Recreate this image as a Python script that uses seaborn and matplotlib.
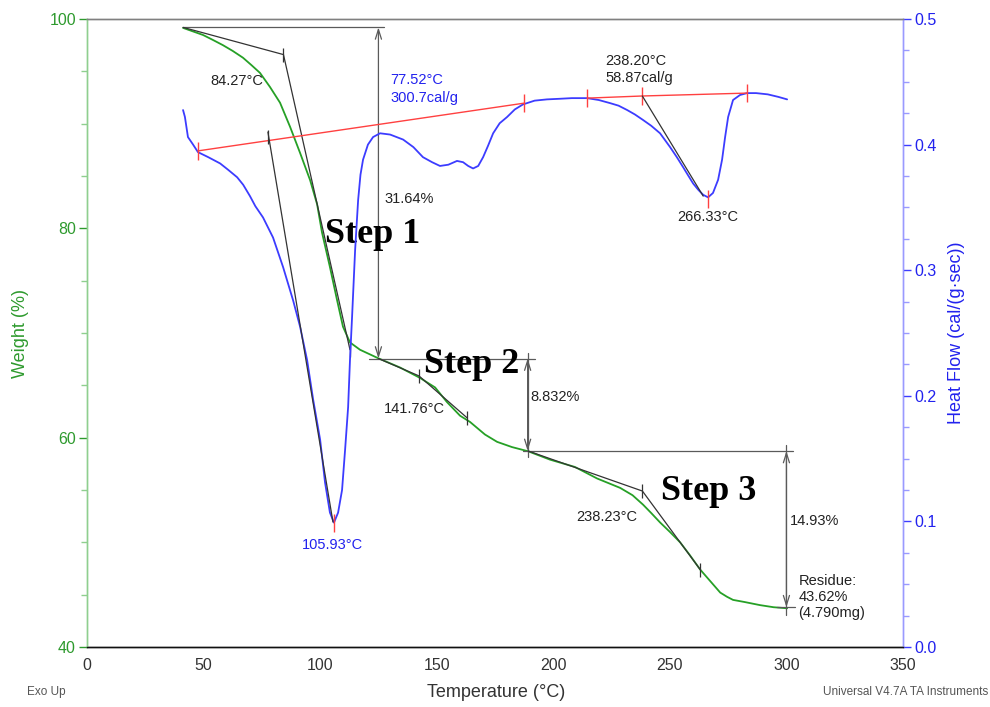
import numpy as np
import matplotlib
matplotlib.use("Agg")
import matplotlib.pyplot as plt
from matplotlib.ticker import MultipleLocator
import seaborn as sns

# ---------------- data ----------------
# TGA weight-loss curve
tga_temp = [41.2, 45.0, 49.8, 54.0, 58.3, 62.5, 66.9, 70.5, 74.2, 78.5, 82.8, 87.1,
            91.4, 95.7, 98.7, 100.8, 104.2, 107.2, 109.8, 112.8, 117.1, 124.8,
            134.3, 142.9, 149.3, 154.4, 160.0, 164.3, 170.7, 175.9, 182.3, 189.2,
            198.6, 209.3, 218.8, 228.7, 234.0, 238.5, 242.0, 245.8, 250.0, 254.4,
            258.5, 263.0, 267.3, 271.6, 274.5, 277.1, 282.0, 288.7, 294.5, 300.3]
tga_weight = [99.15, 98.85, 98.47, 98.0, 97.5, 96.95, 96.3, 95.6, 94.85, 93.5, 92.0, 89.7,
              87.2, 84.6, 82.3, 79.6, 76.3, 73.2, 70.6, 69.1, 68.4, 67.6,
              66.7, 65.7, 64.8, 63.4, 62.1, 61.5, 60.3, 59.6, 59.1, 58.7,
              57.9, 57.2, 56.1, 55.2, 54.5, 53.6, 52.8, 51.9, 51.0, 50.0,
              48.8, 47.4, 46.3, 45.2, 44.8, 44.5, 44.3, 44.0, 43.8, 43.7]

# DSC heat-flow curve
dsc_temp = [41.2, 42.0, 43.3, 45.5, 47.6, 52.0, 57.1, 60.5, 64.4, 67.0, 69.9, 72.2,
            75.5, 79.8, 84.1, 88.4, 91.4, 94.4, 97.0, 100.0, 102.1, 104.2, 105.93,
            107.7, 109.4, 110.7, 112.0, 112.8, 113.7, 115.0, 116.3, 117.3, 118.4,
            120.5, 122.7, 125.7, 130.0, 135.6, 140.0, 144.1, 148.0, 151.4, 155.0,
            158.7, 161.3, 163.5, 165.6, 167.8, 169.9, 172.0, 174.2, 177.0, 180.2,
            183.5, 187.0, 192.0, 197.3, 202.9, 208.0, 214.5, 219.5, 224.4, 228.0,
            231.7, 235.0, 238.5, 242.0, 245.8, 250.1, 253.0, 255.7, 258.0, 260.0,
            262.2, 264.3, 266.4, 268.5, 270.7, 272.4, 273.7, 275.0, 277.1, 280.1,
            283.1, 287.0, 292.0, 296.5, 300.3]
dsc_flow = [0.4275, 0.422, 0.406, 0.400, 0.394, 0.390, 0.385, 0.380, 0.374, 0.368, 0.359, 0.351,
            0.342, 0.326, 0.3025, 0.276, 0.255, 0.2285, 0.197, 0.165, 0.131, 0.107, 0.099,
            0.107, 0.125, 0.157, 0.191, 0.2285, 0.263, 0.316, 0.356, 0.376, 0.388,
            0.400, 0.406, 0.409, 0.408, 0.404, 0.398, 0.390, 0.386, 0.383, 0.384,
            0.387, 0.386, 0.383, 0.381, 0.383, 0.390, 0.399, 0.409, 0.417, 0.422,
            0.428, 0.432, 0.435, 0.436, 0.4365, 0.437, 0.437, 0.4355, 0.433, 0.431,
            0.4275, 0.424, 0.4196, 0.415, 0.409, 0.398, 0.390, 0.382, 0.375, 0.369,
            0.364, 0.360, 0.358, 0.3615, 0.372, 0.388, 0.406, 0.422, 0.4355, 0.4395,
            0.441, 0.441, 0.440, 0.438, 0.436]

# Weight-loss steps: start level, losses and the temperatures of the step markers
start_weight = 99.20
step_losses = [31.64, 8.832, 14.93]
step_temps = [125.0, 189.0, 300.0]
residue_pct = 43.62
residue_mg = 4.790

# TGA onset temperatures with their tangent construction points
tga_onsets = [84.27, 141.76, 238.23]
tan1_T, tan1_W = [41.2, 84.27, 112.8], [99.2, 96.6, 68.4]
tan2_T, tan2_W = [125.0, 142.4, 163.0], [67.56, 65.9, 61.9]
tan3_T, tan3_W = [189.2, 238.23, 263.0], [58.73, 54.9, 47.4]

# DSC integration baselines, peaks and onset tangents
base1_T, base1_HF = [47.6, 187.5], [0.395, 0.433]
base2_T, base2_HF = [214.5, 238.2, 283.1], [0.437, 0.4387, 0.441]
peak_T, peak_HF = [105.93, 266.33], [0.099, 0.357]
dsc_onset_T = [77.52, 238.20]
dsc_enthalpy = [300.7, 58.87]
dtan1_T, dtan1_HF = [77.6, 105.5], [0.410, 0.0995]
dtan2_T, dtan2_HF = [238.2, 264.3], [0.4387, 0.359]

# ---------------- style ----------------
sns.set_style("white")
plt.rcParams["font.family"] = ["Liberation Sans", "DejaVu Sans"]

GREEN = "#26a026"
GREEN_TXT = "#2e9a2e"
BLUE = "#3c3cff"
BLUE_TXT = "#2222ee"
RED = "#ff4040"
GUIDE = "#5a5a5a"
TAN = "#333333"
TXT = "#222222"

fig = plt.figure(figsize=(9.9, 7.07), dpi=100)
ax = fig.add_axes([87 / 990, 1 - 647 / 707, 816 / 990, 628 / 707])
ax2 = ax.twinx()

# curves
sns.lineplot(x=tga_temp, y=tga_weight, ax=ax, color=GREEN, lw=1.3,
             sort=False, estimator=None)
sns.lineplot(x=dsc_temp, y=dsc_flow, ax=ax2, color=BLUE, lw=1.3,
             sort=False, estimator=None)

# axis ranges and ticks
ax.set_xlim(0, 350)
ax.set_ylim(40, 100)
ax2.set_ylim(0, 0.5)
ax.set_xticks(np.arange(0, 351, 50))
ax.xaxis.set_minor_locator(MultipleLocator(12.5))
ax.set_yticks([40, 60, 80, 100])
ax.yaxis.set_minor_locator(MultipleLocator(5))
ax2.set_yticks([0.0, 0.1, 0.2, 0.3, 0.4, 0.5])
ax2.set_yticklabels(["0.0", "0.1", "0.2", "0.3", "0.4", "0.5"])
ax2.yaxis.set_minor_locator(MultipleLocator(0.025))

ax.tick_params(axis="x", which="both", direction="out", length=5, width=1,
               color="#222222", labelsize=11.5, labelcolor="#333333", pad=3)
ax.tick_params(axis="y", which="major", direction="out", length=6, width=1,
               color=GREEN_TXT, labelsize=11.5, labelcolor=GREEN_TXT, pad=2)
ax.tick_params(axis="y", which="minor", direction="out", length=4, width=1,
               color="#8fcf8f")
ax2.tick_params(axis="y", which="major", direction="out", length=6, width=1,
                color=BLUE, labelsize=11.5, labelcolor=BLUE_TXT, pad=2)
ax2.tick_params(axis="y", which="minor", direction="out", length=4, width=1,
                color="#9a9aff")

for a in (ax, ax2):
    a.spines["top"].set_color("#808080")
    a.spines["bottom"].set_color("#111111")
    a.spines["left"].set_color("#8fcf8f")
    a.spines["right"].set_color("#9a9aff")
    for s in a.spines.values():
        s.set_linewidth(1.0)

ax.set_xlabel("Temperature (°C)", fontsize=13, color="#333333")
ax.xaxis.set_label_coords(0.501, -0.073)
ax.xaxis.label.set(va="center", ha="center")
ax.set_ylabel("Weight (%)", fontsize=13, color=GREEN_TXT)
ax.yaxis.label.set(va="center", ha="center", rotation_mode="anchor")
ax.yaxis.set_label_coords(-0.082, 0.5)
ax2.set_ylabel("Heat Flow (cal/(g·sec))", fontsize=13, color=BLUE_TXT)
ax2.yaxis.label.set(va="center", ha="center", rotation_mode="anchor")
ax2.yaxis.set_label_coords(1.066, 0.5)

# ---------------- TGA step construction ----------------
levels = [start_weight]
for loss in step_losses:
    levels.append(levels[-1] - loss)

# horizontal reference lines at each plateau
ax.plot([tga_temp[0], step_temps[0] + 2.5], [levels[0], levels[0]], color=GUIDE, lw=0.9)
ax.plot([step_temps[0] - 4, step_temps[1] + 3], [levels[1], levels[1]], color=GUIDE, lw=0.9)
ax.plot([step_temps[1] - 2, step_temps[2] + 3], [levels[2], levels[2]], color=GUIDE, lw=0.9)
ax.plot([step_temps[2] - 4, step_temps[2] + 3.5], [levels[3], levels[3]], color=GUIDE, lw=0.9)

# double-headed arrows spanning each weight loss
for T, top, bot in zip(step_temps, levels[:-1], levels[1:]):
    ax.annotate("", xy=(T, bot), xytext=(T, top),
                arrowprops=dict(arrowstyle="<->,head_length=0.7,head_width=0.22",
                                color=GUIDE, lw=0.9, shrinkA=0, shrinkB=0))
# small overshoots of the step markers
ax.plot([step_temps[1], step_temps[1]], [levels[1] + 0.5, levels[2] - 0.6], color=GUIDE, lw=0.9)
ax.plot([step_temps[2], step_temps[2]], [levels[2] + 0.6, levels[3] - 0.7], color=GUIDE, lw=0.9)

# onset tangents on the weight curve
for tT, tW in [(tan1_T, tan1_W), (tan2_T, tan2_W), (tan3_T, tan3_W)]:
    ax.plot(tT, tW, color=TAN, lw=0.9)
    ax.plot(tT[1:], tW[1:], ls="none", marker="|", ms=10, mew=0.9, color=TAN)

# ---------------- DSC construction ----------------
ax2.plot(base1_T, base1_HF, color=RED, lw=1.0)
ax2.plot(base2_T, base2_HF, color=RED, lw=1.0)
ax2.plot(base1_T + base2_T, base1_HF + base2_HF, ls="none", marker="|",
         ms=13, mew=1.0, color=RED)
ax2.plot(peak_T, peak_HF, ls="none", marker="|", ms=13, mew=1.0, color=RED)
ax2.plot(dtan1_T, dtan1_HF, color=TAN, lw=0.9)
ax2.plot(dtan2_T, dtan2_HF, color=TAN, lw=0.9)
ax2.plot([dtan1_T[0]], [dtan1_HF[0] - 0.004], ls="none", marker="|", ms=10,
         mew=0.9, color=TAN)

# ---------------- annotations ----------------
fs = 10.5
ax.text(52.8, 94.1, f"{tga_onsets[0]:.2f}°C", fontsize=fs, color=TXT, va="center")
ax.text(127.4, 62.7, f"{tga_onsets[1]:.2f}°C", fontsize=fs, color=TXT, va="center")
ax.text(209.8, 52.4, f"{tga_onsets[2]:.2f}°C", fontsize=fs, color=TXT, va="center")

ax.text(130.0, 93.3, f"{dsc_onset_T[0]:.2f}°C\n{dsc_enthalpy[0]:.1f}cal/g",
        fontsize=fs, color=BLUE_TXT, va="center", linespacing=1.3)
ax.text(222.5, 95.2, f"{dsc_onset_T[1]:.2f}°C\n{dsc_enthalpy[1]:.2f}cal/g",
        fontsize=fs, color=TXT, va="center", linespacing=1.3)
ax.text(92.2, 49.7, f"{peak_T[0]:.2f}°C", fontsize=fs, color=BLUE_TXT, va="center")
ax.text(253.0, 81.1, f"{peak_T[1]:.2f}°C", fontsize=fs, color=TXT, va="center")

ax.text(127.8, 82.8, f"{step_losses[0]:.2f}%", fontsize=fs, color=TXT, va="center")
ax.text(190.0, 63.9, f"{step_losses[1]:.3f}%", fontsize=fs, color=TXT, va="center")
ax.text(301.6, 52.0, f"{step_losses[2]:.2f}%", fontsize=fs, color=TXT, va="center")
ax.text(305.2, 44.8, f"Residue:\n{residue_pct:.2f}%\n({residue_mg:.3f}mg)",
        fontsize=fs, color=TXT, va="center", linespacing=1.2)

step_font = dict(fontsize=26, fontweight="bold", color="black",
                 family=["Liberation Serif", "DejaVu Serif"], va="center")
ax.text(102.0, 79.4, "Step 1", **step_font)
ax.text(144.6, 67.0, "Step 2", **step_font)
ax.text(246.2, 54.9, "Step 3", **step_font)

fig.text(27 / 990, 1 - 692 / 707, "Exo Up", fontsize=8.5, color="#555555", va="center")
fig.text(988 / 990, 1 - 692 / 707, "Universal V4.7A TA Instruments", fontsize=8.5,
         color="#555555", va="center", ha="right")

fig.savefig("out.png", dpi=100)
